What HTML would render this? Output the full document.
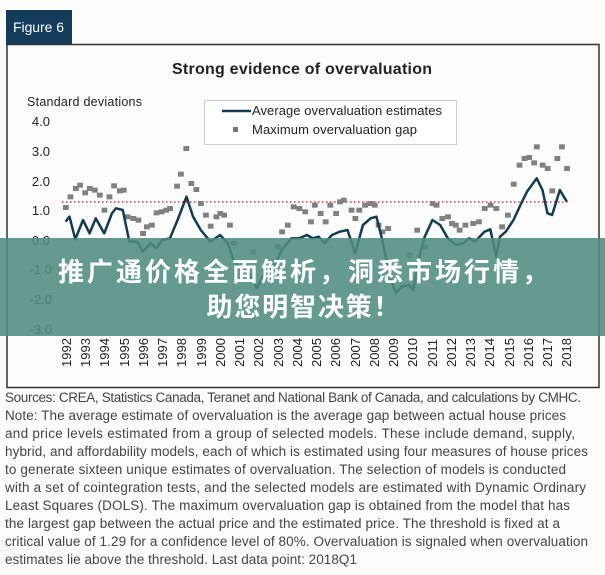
<!DOCTYPE html>
<html><head><meta charset="utf-8"><style>
body{margin:0;background:#fff;}
svg{display:block;font-family:"Liberation Sans","Noto Sans CJK SC",sans-serif;}
</style></head><body>
<svg width="605" height="575" viewBox="0 0 605 575">
<rect width="605" height="575" fill="#fcfcfb"/>
<rect x="6" y="10" width="66" height="35" fill="#123c5a"/>
<text x="13" y="32" font-size="14" fill="#fff" textLength="51">Figure 6</text>
<rect x="7" y="44.5" width="592" height="343" fill="#fbfcfb" stroke="#333" stroke-width="1.5"/>
<text x="302" y="74" font-size="16" font-weight="bold" fill="#222" text-anchor="middle" textLength="260">Strong evidence of overvaluation</text>
<text x="27" y="106" font-size="12.5" fill="#222" textLength="115">Standard deviations</text>
<rect x="204.5" y="100.5" width="252" height="44" fill="#fff" stroke="#ccc"/>
<line x1="222" y1="111" x2="251" y2="111" stroke="#123c4f" stroke-width="2.5"/>
<rect x="233" y="127" width="5" height="5" fill="#777"/>
<text x="252" y="115" font-size="13" fill="#222" textLength="190">Average overvaluation estimates</text>
<text x="252" y="134" font-size="13" fill="#222" textLength="165">Maximum overvaluation gap</text>
<g font-size="13" fill="#222" text-anchor="end">
<text x="50" y="126">4.0</text><text x="50" y="156">3.0</text><text x="50" y="186">2.0</text><text x="50" y="215">1.0</text><text x="50" y="245">0.0</text><text x="52" y="274">-1.0</text><text x="52" y="304">-2.0</text><text x="52" y="334">-3.0</text>
</g>
<line x1="62" y1="202" x2="570" y2="202" stroke="#c0394a" stroke-width="1.5" stroke-dasharray="1.5,2.5"/>
<g transform="translate(0,190) scale(0.3861,0.3333)">
<g fill="#808080">
<rect x="163" y="45" width="15" height="15"/><rect x="175" y="13" width="15" height="15"/><rect x="189" y="-12" width="15" height="15"/><rect x="200" y="-22" width="15" height="15"/><rect x="213" y="1" width="15" height="15"/><rect x="225" y="-12" width="15" height="15"/><rect x="238" y="-7" width="15" height="15"/><rect x="251" y="8" width="15" height="15"/><rect x="276" y="13" width="15" height="15"/><rect x="288" y="-20" width="15" height="15"/><rect x="303" y="-5" width="15" height="15"/><rect x="313" y="-7" width="15" height="15"/>
<rect x="263" y="53" width="15" height="15"/><rect x="323" y="73" width="15" height="15"/><rect x="338" y="78" width="15" height="15"/><rect x="351" y="83" width="15" height="15"/><rect x="363" y="123" width="15" height="15"/><rect x="373" y="103" width="15" height="15"/><rect x="386" y="98" width="15" height="15"/><rect x="398" y="61" width="15" height="15"/><rect x="411" y="58" width="15" height="15"/><rect x="423" y="53" width="15" height="15"/><rect x="433" y="48" width="15" height="15"/>
<rect x="475" y="-132" width="15" height="15"/><rect x="461" y="-55" width="15" height="15"/><rect x="451" y="-19" width="15" height="15"/><rect x="488" y="-27" width="15" height="15"/><rect x="501" y="-9" width="15" height="15"/>
<rect x="513" y="33" width="15" height="15"/><rect x="526" y="68" width="15" height="15"/><rect x="538" y="101" width="15" height="15"/><rect x="553" y="73" width="15" height="15"/><rect x="563" y="63" width="15" height="15"/><rect x="573" y="68" width="15" height="15"/><rect x="588" y="98" width="15" height="15"/><rect x="598" y="153" width="15" height="15"/><rect x="648" y="178" width="15" height="15"/><rect x="713" y="163" width="15" height="15"/><rect x="723" y="118" width="15" height="15"/><rect x="738" y="98" width="15" height="15"/><rect x="753" y="43" width="15" height="15"/><rect x="768" y="48" width="15" height="15"/><rect x="783" y="58" width="15" height="15"/><rect x="798" y="88" width="15" height="15"/><rect x="808" y="38" width="15" height="15"/><rect x="823" y="63" width="15" height="15"/><rect x="836" y="88" width="15" height="15"/><rect x="848" y="38" width="15" height="15"/><rect x="863" y="63" width="15" height="15"/><rect x="873" y="28" width="15" height="15"/><rect x="883" y="23" width="15" height="15"/><rect x="903" y="53" width="15" height="15"/><rect x="913" y="78" width="15" height="15"/><rect x="923" y="53" width="15" height="15"/><rect x="938" y="38" width="15" height="15"/><rect x="953" y="33" width="15" height="15"/><rect x="963" y="38" width="15" height="15"/><rect x="973" y="98" width="15" height="15"/><rect x="983" y="118" width="15" height="15"/><rect x="998" y="108" width="15" height="15"/><rect x="1053" y="188" width="15" height="15"/><rect x="1073" y="113" width="15" height="15"/><rect x="1093" y="163" width="15" height="15"/><rect x="1113" y="33" width="15" height="15"/><rect x="1123" y="38" width="15" height="15"/><rect x="1138" y="78" width="15" height="15"/><rect x="1153" y="73" width="15" height="15"/><rect x="1163" y="93" width="15" height="15"/><rect x="1173" y="98" width="15" height="15"/><rect x="1183" y="113" width="15" height="15"/><rect x="1198" y="98" width="15" height="15"/><rect x="1218" y="93" width="15" height="15"/><rect x="1233" y="88" width="15" height="15"/><rect x="1248" y="48" width="15" height="15"/><rect x="1263" y="38" width="15" height="15"/><rect x="1278" y="48" width="15" height="15"/><rect x="1293" y="103" width="15" height="15"/><rect x="1308" y="68" width="15" height="15"/>
<rect x="1323" y="-25" width="15" height="15"/><rect x="1338" y="-82" width="15" height="15"/><rect x="1351" y="-102" width="15" height="15"/><rect x="1363" y="-105" width="15" height="15"/><rect x="1376" y="-89" width="15" height="15"/><rect x="1383" y="-137" width="15" height="15"/><rect x="1398" y="-82" width="15" height="15"/><rect x="1411" y="-72" width="15" height="15"/><rect x="1423" y="-5" width="15" height="15"/><rect x="1436" y="-102" width="15" height="15"/><rect x="1448" y="-137" width="15" height="15"/><rect x="1461" y="-72" width="15" height="15"/>
</g>
<polyline fill="none" stroke="#123c4f" stroke-width="2.5" vector-effect="non-scaling-stroke" stroke-linejoin="round" points="170,95 180,80 195,148 215,90 232,130 248,85 270,130 290,70 300,55 318,60 335,155 355,155 370,185 390,160 405,175 420,150 440,145 460,90 483,20 500,80 520,120 545,155 570,135 590,160 605,210 625,240 645,250 665,295 680,260 710,230 730,180 755,145 775,145 795,135 810,145 825,140 840,160 860,135 880,125 900,120 920,190 940,105 960,85 975,80 990,150 1010,260 1025,310 1040,290 1060,285 1070,300 1085,205 1100,140 1120,90 1140,105 1160,145 1180,165 1200,160 1215,145 1230,155 1255,125 1270,118 1285,200 1295,140 1310,125 1330,90 1350,40 1365,5 1390,-35 1405,0 1418,70 1430,75 1450,0 1468,35"/>
</g>
<g font-size="13" fill="#222">
<text transform="translate(71,367) rotate(-90)">1992</text><text transform="translate(90,367) rotate(-90)">1993</text><text transform="translate(109,367) rotate(-90)">1994</text><text transform="translate(129,367) rotate(-90)">1995</text><text transform="translate(148,367) rotate(-90)">1996</text><text transform="translate(167,367) rotate(-90)">1997</text><text transform="translate(186,367) rotate(-90)">1998</text><text transform="translate(206,367) rotate(-90)">1999</text><text transform="translate(225,367) rotate(-90)">2000</text><text transform="translate(244,367) rotate(-90)">2001</text><text transform="translate(263,367) rotate(-90)">2002</text><text transform="translate(283,367) rotate(-90)">2003</text><text transform="translate(302,367) rotate(-90)">2004</text><text transform="translate(321,367) rotate(-90)">2005</text><text transform="translate(340,367) rotate(-90)">2006</text><text transform="translate(360,367) rotate(-90)">2007</text><text transform="translate(379,367) rotate(-90)">2008</text><text transform="translate(398,367) rotate(-90)">2009</text><text transform="translate(417,367) rotate(-90)">2010</text><text transform="translate(437,367) rotate(-90)">2011</text><text transform="translate(456,367) rotate(-90)">2012</text><text transform="translate(475,367) rotate(-90)">2013</text><text transform="translate(494,367) rotate(-90)">2014</text><text transform="translate(514,367) rotate(-90)">2015</text><text transform="translate(533,367) rotate(-90)">2016</text><text transform="translate(552,367) rotate(-90)">2017</text><text transform="translate(571,367) rotate(-90)">2018</text>
</g>
<rect x="0" y="238" width="605" height="98" fill="#4f8c80" opacity="0.88"/>
<text x="303" y="281" font-size="26" font-weight="bold" fill="#fff" text-anchor="middle" textLength="490">推广通价格全面解析，洞悉市场行情，</text>
<text x="303" y="316" font-size="26" font-weight="bold" fill="#fff" text-anchor="middle" textLength="193">助您明智决策！</text>
<g font-size="13.5" fill="#444">
<text x="5" y="402" textLength="576">Sources: CREA, Statistics Canada, Teranet and National Bank of Canada, and calculations by CMHC.</text>
<text x="5" y="420" textLength="561">Note: The average estimate of overvaluation is the average gap between actual house prices</text>
<text x="5" y="438" textLength="570">and price levels estimated from a group of selected models. These include demand, supply,</text>
<text x="5" y="456" textLength="583">hybrid, and affordability models, each of which is estimated using four measures of house prices</text>
<text x="5" y="474" textLength="561">to generate sixteen unique estimates of overvaluation. The selection of models is conducted</text>
<text x="5" y="492" textLength="581">with a set of cointegration tests, and the selected models are estimated with Dynamic Ordinary</text>
<text x="5" y="510" textLength="565">Least Squares (DOLS). The maximum overvaluation gap is obtained from the model that has</text>
<text x="5" y="528" textLength="555">the largest gap between the actual price and the estimated price. The threshold is fixed at a</text>
<text x="5" y="546" textLength="583">critical value of 1.29 for a confidence level of 80%. Overvaluation is signaled when overvaluation</text>
<text x="5" y="564" textLength="352">estimates lie above the threshold. Last data point: 2018Q1</text>
</g>
</svg>
</body></html>
